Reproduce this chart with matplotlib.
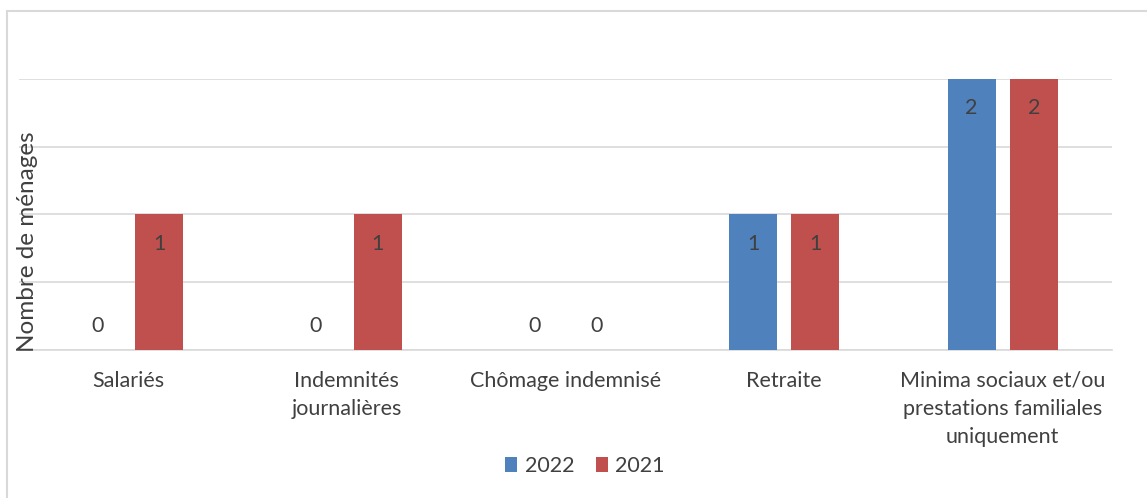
import matplotlib
matplotlib.use("Agg")
import matplotlib.pyplot as plt
from matplotlib.patches import Rectangle, Patch
import numpy as np

plt.rcParams['font.family'] = ['Lato', 'DejaVu Sans']

categories = ["Salariés", "Indemnités\njournalières", "Chômage indemnisé",
              "Retraite", "Minima sociaux et/ou\nprestations familiales\nuniquement"]
series_names = ["2022", "2021"]
values_2022 = [0, 0, 0, 1, 2]
values_2021 = [1, 1, 0, 1, 2]
colors = ["#4F81BD", "#C0504D"]
text_color = "#404040"
grid_color = "#D9D9D9"
fs = 15.5

W, H = 1147, 498
fig = plt.figure(figsize=(W / 100, H / 100), dpi=100)
ax = fig.add_axes([19 / W, (H - 350) / H, (1112 - 19) / W, (350 - 79) / H])

x = np.arange(len(categories))
offset = 0.142
width = 0.22
for vals, sign, col in [(values_2022, -1, colors[0]), (values_2021, 1, colors[1])]:
    bars = ax.bar(x + sign * offset, vals, width=width, color=col, zorder=3)
    for b, v in zip(bars, vals):
        cx = b.get_x() + b.get_width() / 2
        dy = -29 if v > 0 else 24
        ax.annotate(str(v), (cx, v), xytext=(0, dy), textcoords="offset pixels",
                    ha="center", va="center", fontsize=fs, color=text_color, zorder=4)

ax.set_xlim(-0.5, len(categories) - 0.5)
ax.set_ylim(0, 2)
ax.set_yticks(np.arange(0, 2.01, 0.5))
ax.yaxis.grid(True, color=grid_color, linewidth=1.2, zorder=0)
ax.tick_params(axis="y", left=False, labelleft=False)
ax.tick_params(axis="x", bottom=False, pad=11.5, colors=text_color)
ax.set_xticks(x)
ax.set_xticklabels(categories, fontsize=fs, color=text_color, linespacing=1.5, va="top")
for s in ["top", "right", "left"]:
    ax.spines[s].set_visible(False)
ax.spines["bottom"].set_color(grid_color)
ax.spines["bottom"].set_linewidth(1.2)

fig.text(28 / W, 1 - 242 / H, "Nombre de ménages", rotation=90, ha="center", va="center",
         fontsize=17.5, color=text_color)

handles = [Patch(facecolor=c, edgecolor="none") for c in colors]
fig.legend(handles, series_names, loc="center", bbox_to_anchor=(585 / W, 1 - 466 / H),
           ncol=2, frameon=False, fontsize=fs, handlelength=0.55, handleheight=0.65,
           handletextpad=0.35, columnspacing=1.0, labelcolor=text_color)

fig.patches.append(Rectangle((7 / W, -0.1), 1.2, 1.1 - 11 / H, transform=fig.transFigure,
                             fill=False, edgecolor=grid_color, linewidth=1.5))

fig.savefig("out.png", dpi=100, facecolor="white")
